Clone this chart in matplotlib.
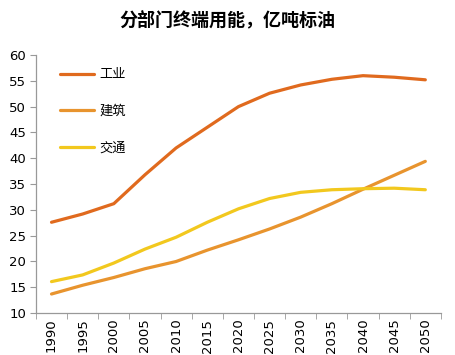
import matplotlib.pyplot as plt
import numpy as np

plt.rcParams['font.family'] = ['Noto Sans CJK SC', 'DejaVu Sans']

years = ["1990", "1995", "2000", "2005", "2010", "2015", "2020",
         "2025", "2030", "2035", "2040", "2045", "2050"]
industry = [27.6, 29.2, 31.2, 36.8, 42.0, 46.0, 50.0, 52.6, 54.2, 55.3, 56.0, 55.7, 55.2]
building = [13.7, 15.4, 16.9, 18.6, 20.0, 22.2, 24.2, 26.3, 28.6, 31.2, 34.0, 36.7, 39.4]
transport = [16.1, 17.4, 19.7, 22.4, 24.7, 27.6, 30.2, 32.2, 33.4, 33.9, 34.1, 34.2, 33.9]

names = ["工业", "建筑", "交通"]
colors = ["#E06A1E", "#E8942E", "#F2C81E"]

fig = plt.figure(figsize=(4.55, 3.55), dpi=100)
ax = fig.add_axes([0.079, 0.118, 0.89, 0.727])

x = np.arange(len(years))
for vals, name, c in zip([industry, building, transport], names, colors):
    ax.plot(x, vals, color=c, lw=2.3, label=name, solid_capstyle="round")

ax.set_xlim(-0.5, len(years) - 0.5)
ax.set_ylim(10, 60)
ax.set_yticks(range(10, 61, 5))
ax.set_xticks(x)
ax.set_xticklabels(years, rotation=90, fontsize=9.5, family="DejaVu Sans")
ax.set_xticks(np.arange(-0.5, len(years)), minor=True)
ax.tick_params(axis="x", which="major", length=0, pad=4)
ax.tick_params(axis="x", which="minor", length=4, color="#999999")
ax.tick_params(axis="y", length=4, color="#999999", labelsize=9.5, pad=3)
for lab in ax.get_yticklabels():
    lab.set_family("DejaVu Sans")

for s in ["top", "right"]:
    ax.spines[s].set_visible(False)
for s in ["left", "bottom"]:
    ax.spines[s].set_color("#999999")
    ax.spines[s].set_linewidth(0.9)

ax.legend(loc="upper left", bbox_to_anchor=(0.03, 0.995), frameon=False,
          handlelength=2.6, labelspacing=1.8, fontsize=9.5, handletextpad=0.4)

fig.text(0.5, 0.945, "分部门终端用能，亿吨标油", ha="center", va="center",
         fontsize=13, fontweight="bold")

fig.savefig("out.png", dpi=100, facecolor="white")
